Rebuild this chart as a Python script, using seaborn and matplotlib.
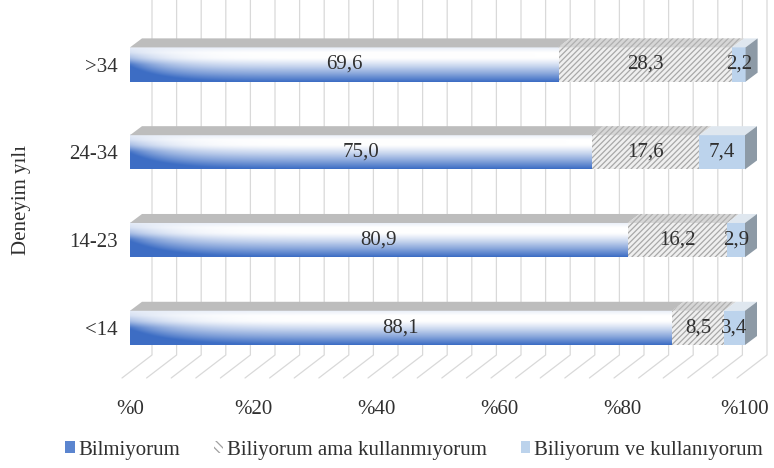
import numpy as np
import pandas as pd
import matplotlib
matplotlib.use("Agg")
import matplotlib.pyplot as plt
import seaborn as sns
from matplotlib.patches import Polygon, Patch

# Veriler
gruplar = ['>34', '24-34', '14-23', '<14']
bilmiyorum = [69.6, 75.0, 80.9, 88.1]
kullanmiyorum = [28.3, 17.6, 16.2, 8.5]
kullaniyorum = [2.2, 7.4, 2.9, 3.4]
seri_adlari = ['Bilmiyorum', 'Biliyorum ama kullanmıyorum', 'Biliyorum ve kullanıyorum']
x_ticks = [0, 20, 40, 60, 80, 100]

df = pd.DataFrame({'grup': gruplar, 'b1': bilmiyorum, 'b2': kullanmiyorum, 'b3': kullaniyorum})
df['c1'] = df['b1']
df['c2'] = df['b1'] + df['b2']
df['c3'] = df['c2'] + df['b3']

sns.set_theme(style='white')
plt.rcParams['font.family'] = ['Liberation Serif', 'DejaVu Serif']
plt.rcParams['hatch.linewidth'] = 0.9

W, H = 774, 468
fig = plt.figure(figsize=(W / 100, H / 100), dpi=100)
# eksen yerleşimi (piksel)
ax_l, ax_r, ax_top, ax_bot = 125, 774, 0, 385
ax = fig.add_axes([ax_l / W, 1 - ax_bot / H, (ax_r - ax_l) / W, (ax_bot - ax_top) / H])

ppx = 6.15          # px / yüzde
x0_px = 130         # %0 konumu
row0_px, row_step = 64.5, 87.8
xlim = ((ax_l - x0_px) / ppx, (ax_r - x0_px) / ppx)
ylim = ((ax_bot - row0_px) / row_step, (ax_top - row0_px) / row_step)
yazi = '#303030'

# yığılmış çubuklar
sns.barplot(data=df, x='c3', y='grup', orient='h', color='#bcd3ec', saturation=1,
            width=0.39, linewidth=0, ax=ax, zorder=2)
kat3 = ax.containers[-1]
sns.barplot(data=df, x='c2', y='grup', orient='h', color='#efefef', saturation=1,
            width=0.39, linewidth=0, edgecolor='#a8a8a8', hatch='//////', ax=ax, zorder=3)
kat2 = ax.containers[-1]
sns.barplot(data=df, x='c1', y='grup', orient='h', color='#4472c4', saturation=1,
            width=0.39, linewidth=0, ax=ax, zorder=4)
kat1 = ax.containers[-1]

blue = np.array([0.24, 0.43, 0.77])
white = np.array([1.0, 1.0, 1.0])
lb_a = np.array([0.93, 0.96, 0.99])
lb_b = np.array([0.66, 0.79, 0.92])
tt, ss = np.meshgrid(np.linspace(0, 1, 40), np.linspace(0, 1, 200), indexing='ij')

def mavi_grad():
    base = np.clip((tt - 0.3) / 0.7, 0, 1) ** 1.2
    left = 0.7 * (1 - ss) ** 12 * np.clip(tt * 2, 0, 1)
    top = 0.12 * np.clip(1 - tt / 0.15, 0, 1)
    i = np.clip(base + left + top, 0, 1)[..., None]
    return white + i * (blue - white)

def acik_grad():
    i = np.clip(0.55 * tt + 0.6 * ss, 0, 1)[..., None]
    return lb_a + i * (lb_b - lb_a)

ddx = 12 / ppx
ddy = 9 / row_step

for k, g in enumerate(gruplar):
    p1, p2, p3 = kat1[k], kat2[k], kat3[k]
    y, h = p1.get_y(), p1.get_height()
    # ön yüz gradyanları
    p1.set_visible(False)
    ax.imshow(mavi_grad(), extent=(0, p1.get_width(), y + h, y), aspect='auto',
              zorder=5, interpolation='bilinear')
    ax.imshow(acik_grad(), extent=(p2.get_width(), p3.get_width(), y + h, y), aspect='auto',
              zorder=1.5, interpolation='bilinear')
    # üst yüz
    for xa, xb, fc, ht in [(0, p1.get_width(), '#bdbdbd', None),
                           (p1.get_width(), p2.get_width(), '#d6d6d6', '//////'),
                           (p2.get_width(), p3.get_width(), '#dfe7ef', None)]:
        ax.add_patch(Polygon([(xa, y), (xb, y), (xb + ddx, y - ddy), (xa + ddx, y - ddy)],
                             closed=True, facecolor=fc, edgecolor='#b0b0b0' if ht else 'none',
                             hatch=ht, linewidth=0, zorder=6))
    # sağ yan yüz
    xe = p3.get_width()
    ax.add_patch(Polygon([(xe, y), (xe + ddx, y - ddy), (xe + ddx, y + h - ddy), (xe, y + h)],
                         closed=True, facecolor='#8d9aa6', linewidth=0, zorder=6))
    # değer etiketleri
    yc = y + h / 2
    for xa, xb, v in [(0, p1.get_width(), bilmiyorum[k]),
                      (p1.get_width(), p2.get_width(), kullanmiyorum[k]),
                      (p2.get_width(), p3.get_width(), kullaniyorum[k])]:
        ax.text((xa + xb) / 2, yc, f'{v:.1f}'.replace('.', ','), ha='center', va='center',
                fontsize=15, color=yazi, zorder=8)

# arka duvar ızgara çizgileri ve taban köşegenleri
y_dip = (355 - row0_px) / row_step
y_on = (378 - row0_px) / row_step
arka = 22 / ppx
on = -8 / ppx
for v in np.arange(0, 101, 4):
    ax.plot([v + arka, v + arka, v + on], [ylim[1], y_dip, y_on], color='#d9d9d9',
            lw=0.9, zorder=0, clip_on=False)

ax.set_xlim(*xlim)
ax.set_ylim(*ylim)
ax.set_xticks(x_ticks)
ax.set_xticklabels([f'%{t}' for t in x_ticks])
ax.tick_params(axis='x', length=0, pad=11, labelsize=15, colors=yazi)
ax.tick_params(axis='y', length=0, pad=5, labelsize=15, colors=yazi)
ax.set_xlabel('')
ax.set_ylabel('')
for s in ax.spines.values():
    s.set_visible(False)
ax.patch.set_alpha(0)

fig.text(22 / W, 1 - 200 / H, 'Deneyim yılı', rotation=90, ha='center', va='center',
         fontsize=15, color=yazi)

handles = [Patch(facecolor='#5b85cf', edgecolor='none'),
           Patch(facecolor='white', edgecolor='#a0a0a0', hatch='\\\\\\\\', linewidth=0),
           Patch(facecolor='#bcd3ec', edgecolor='none')]
fig.legend(handles, seri_adlari, loc='center', bbox_to_anchor=(414 / W, 1 - 450 / H), ncol=3,
           frameon=False, fontsize=15, handlelength=0.45, handleheight=0.45,
           handletextpad=0.2, columnspacing=1.6, labelcolor=yazi, borderpad=0.1)

fig.savefig('out.png', dpi=100, facecolor='white')
